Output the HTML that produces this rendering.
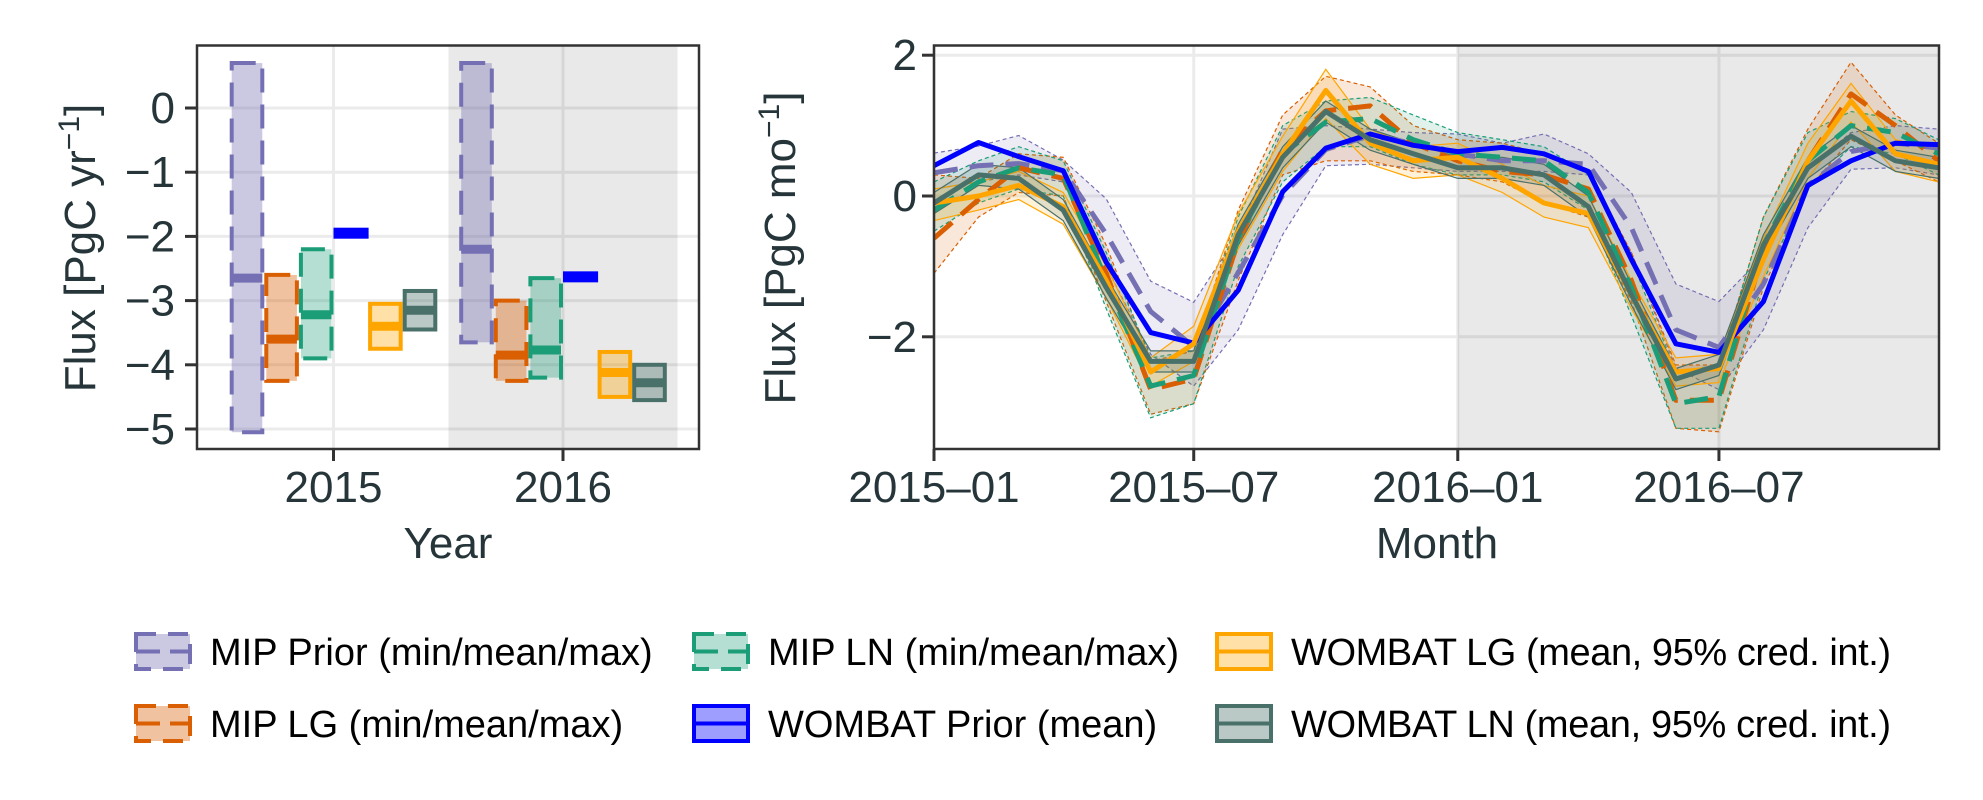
<!DOCTYPE html>
<html><head><meta charset="utf-8"><style>
html,body{margin:0;padding:0;background:#fff;}
svg{display:block;font-family:"Liberation Sans",Arial,sans-serif;}
</style></head><body>
<svg id="chart" width="1983" height="800" viewBox="0 0 1983 800" xmlns="http://www.w3.org/2000/svg">
<defs>
<clipPath id="clipR"><rect x="934" y="45.5" width="1005" height="403.5"/></clipPath>
<clipPath id="clipL"><rect x="197" y="45.5" width="502" height="403.5"/></clipPath>
</defs>
<g id="left"></g>
<g id="right"></g>
<g id="legend"></g>
</svg>
<script>
// ---------- annual data ----------
const years = [2015, 2016];
const yearTickLabels = ["2015", "2016"];
const annualYTicks = [-5, -4, -3, -2, -1, 0];
const priorYrMin = [-5.05, -3.65], priorYrMean = [-2.65, -2.2], priorYrMax = [0.7, 0.7];
const lgYrMin = [-4.25, -4.25], lgYrMean = [-3.6, -3.85], lgYrMax = [-2.6, -3.0];
const lnYrMin = [-3.9, -4.2], lnYrMean = [-3.22, -3.77], lnYrMax = [-2.2, -2.65];
const wPriorYrMean = [-1.95, -2.63];
const wlgYrMin = [-3.75, -4.5], wlgYrMean = [-3.4, -4.12], wlgYrMax = [-3.05, -3.8];
const wlnYrMin = [-3.45, -4.55], wlnYrMean = [-3.15, -4.28], wlnYrMax = [-2.85, -4.0];

// ---------- monthly data (Jan 2015 .. Dec 2016) ----------
const monthDates = [];
for (let i = 0; i < 24; i++) monthDates.push([2015 + Math.floor(i / 12), i % 12]);
const monthTickDates = [[2015,0],[2015,6],[2016,0],[2016,6]];
const monthTickLabels = ["2015\u201301","2015\u201307","2016\u201301","2016\u201307"];
const monthlyYTicks = [-2, 0, 2];
const priorMean = [0.33,0.43,0.46,0.36,-0.54,-1.64,-2.14,-1.09,0.01,0.66,0.86,0.75, 0.6,0.5,0.5,0.45,-0.45,-1.9,-2.15,-1.25,0.15,0.63,0.75,0.68];
const priorMax  = [0.61,0.71,0.86,0.51,-0.04,-1.21,-1.51,-0.54,0.95,1.0,0.95,0.9, 0.88,0.75,0.88,0.6,0.05,-1.25,-1.5,-0.85,0.4,0.9,1.0,0.95];
const priorMin  = [0.1,0.2,0.3,0.2,-1.0,-2.25,-2.7,-1.9,-0.55,0.43,0.45,0.4, 0.35,0.35,0.35,0.3,-0.8,-2.45,-2.75,-1.9,-0.45,0.38,0.4,0.3];
const wPrior    = [0.43,0.76,0.56,0.36,-0.94,-1.94,-2.09,-1.34,0.06,0.68,0.88,0.72, 0.63,0.69,0.6,0.35,-0.9,-2.1,-2.22,-1.5,0.15,0.5,0.75,0.73];
const lgMean = [-0.6,-0.05,0.4,0.25,-1.1,-2.75,-2.6,-0.64,0.66,1.21,1.28,0.75, 0.5,0.35,0.3,0.1,-1.2,-2.9,-2.9,-0.8,0.5,1.45,1.0,0.5];
const lgMax  = [0.3,0.25,0.6,0.55,-0.7,-2.35,-2.2,-0.2,1.15,1.7,1.55,1.0, 0.8,0.75,0.6,0.35,-0.8,-2.4,-2.4,-0.3,0.95,1.9,1.15,0.75];
const lgMin  = [-1.1,-0.3,0.05,0.0,-1.5,-3.1,-2.95,-1.2,0.3,0.5,0.5,0.35, 0.3,0.2,-0.1,-0.3,-1.5,-3.3,-3.35,-1.3,0.1,0.8,0.5,0.2];
const lnMean = [-0.2,0.2,0.4,0.3,-1.2,-2.7,-2.55,-0.6,0.6,1.05,1.1,0.8, 0.6,0.55,0.5,0.05,-1.3,-2.95,-2.85,-0.7,0.5,1.0,0.9,0.6];
const lnMax  = [0.2,0.5,0.7,0.5,-0.8,-2.3,-2.2,-0.3,1.0,1.35,1.4,1.15, 0.9,0.8,0.7,0.3,-0.9,-2.5,-2.4,-0.3,0.9,1.2,1.1,0.8];
const lnMin  = [-0.5,-0.1,0.1,0.0,-1.6,-3.15,-2.95,-1.0,0.2,0.7,0.7,0.45, 0.3,0.3,0.2,-0.2,-1.7,-3.3,-3.3,-1.2,0.1,0.7,0.6,0.3];
const wlgMean = [-0.1,0.0,0.15,-0.15,-1.2,-2.5,-2.1,-0.5,0.6,1.5,0.75,0.5, 0.55,0.25,-0.1,-0.25,-1.4,-2.5,-2.45,-0.9,0.5,1.35,0.6,0.45];
const wlgMax  = [0.1,0.2,0.35,0.05,-1.0,-2.3,-1.85,-0.25,0.85,1.8,0.95,0.7, 0.75,0.45,0.15,0.0,-1.2,-2.3,-2.25,-0.6,0.75,1.6,0.8,0.65];
const wlgMin  = [-0.35,-0.2,-0.05,-0.4,-1.45,-2.7,-2.35,-0.75,0.35,1.1,0.45,0.25, 0.3,0.05,-0.3,-0.45,-1.6,-2.7,-2.65,-1.15,0.25,1.05,0.35,0.2];
const wlnMean = [-0.1,0.3,0.25,-0.2,-1.3,-2.35,-2.35,-0.55,0.55,1.2,0.8,0.6, 0.4,0.4,0.3,-0.15,-1.4,-2.6,-2.4,-0.7,0.4,0.85,0.5,0.4];
const wlnMax  = [0.05,0.45,0.4,-0.05,-1.15,-2.2,-2.2,-0.4,0.7,1.35,0.95,0.75, 0.55,0.55,0.45,0.0,-1.25,-2.45,-2.25,-0.55,0.55,1.0,0.65,0.55];
const wlnMin  = [-0.25,0.15,0.1,-0.35,-1.45,-2.5,-2.5,-0.7,0.4,1.05,0.65,0.45, 0.25,0.25,0.15,-0.3,-1.55,-2.75,-2.55,-0.85,0.25,0.7,0.35,0.25];

const NS = "http://www.w3.org/2000/svg";
const TXT = "#253539";
function mk(parent, tag, attrs) {
  const el = document.createElementNS(NS, tag);
  for (const k in attrs) el.setAttribute(k, attrs[k]);
  parent.appendChild(el);
  return el;
}
const C = {prior:"#7570b3", lg:"#d95f02", ln:"#1b9e77", wp:"#0000ff", wlg:"#ffa500", wln:"#4a706a"};

// ---------- left panel ----------
const L = document.getElementById("left");
const yL = v => 108 - v * 64.2;
const xYear = y => 333.5 + (y - 2015) * 229.5;
const BW = 34.6;
const gL = mk(L, "g", {});


annualYTicks.forEach(t => {
  const l = mk(gL, "line", {x1:197, x2:699, y1:yL(t), y2:yL(t), stroke:"#ebebeb", "stroke-width":3});
  
  
});
years.forEach(y => {
  const l = mk(gL, "line", {x1:xYear(y), x2:xYear(y), y1:45.5, y2:449, stroke:"#ebebeb", "stroke-width":3});
  
  
});
const shL = mk(L, "rect", {x:xYear(2016)-114.5, y:45.5, width:229, height:403.5, fill:"rgba(0,0,0,0.085)"});



const bodyL = mk(L, "g", {"clip-path":"url(#clipL)"});
function annualBox(k, mins, means, maxs, color, dashed, fillOp, name) {
  years.forEach((yr, i) => {
    const x0 = xYear(yr) + (k - 3) * BW;
    const g = mk(bodyL, "g", {});
    
    
    const r = mk(g, "rect", {x:x0+2, y:yL(maxs[i]), width:BW-4, height:yL(mins[i])-yL(maxs[i]),
      fill:color, "fill-opacity":fillOp, stroke:color, "stroke-width":4,
      "stroke-dasharray": dashed ? "24,12" : "none"});
    
    
    const m = mk(g, "line", {x1:x0+2, x2:x0+BW-2, y1:yL(means[i]), y2:yL(means[i]), stroke:color, "stroke-width":9});
    
    
  });
}
annualBox(0, priorYrMin, priorYrMean, priorYrMax, C.prior, true, 0.38, "mip-prior");
annualBox(1, lgYrMin, lgYrMean, lgYrMax, C.lg, true, 0.38, "mip-lg");
annualBox(2, lnYrMin, lnYrMean, lnYrMax, C.ln, true, 0.33, "mip-ln");
years.forEach((yr, i) => {
  const x0 = xYear(yr);
  const r = mk(bodyL, "rect", {x:x0, y:yL(wPriorYrMean[i])-5.5, width:BW+0.5, height:11, fill:C.wp});
  
  
});
annualBox(4, wlgYrMin, wlgYrMean, wlgYrMax, C.wlg, false, 0.35, "wombat-lg");
annualBox(5, wlnYrMin, wlnYrMean, wlnYrMax, C.wln, false, 0.38, "wombat-ln");

const frL = mk(L, "rect", {x:197, y:45.5, width:502, height:403.5, fill:"none", stroke:"#333", "stroke-width":2.5});


annualYTicks.forEach(t => {
  const tk = mk(L, "line", {x1:185, x2:197, y1:yL(t), y2:yL(t), stroke:"#333", "stroke-width":3});
  
  
  const tx = mk(L, "text", {x:175, y:yL(t)+15, "text-anchor":"end", "font-size":44, fill:TXT});
  tx.textContent = t < 0 ? "\u2212" + Math.abs(t) : String(t);
  
  
});
years.forEach((y, i) => {
  const tk = mk(L, "line", {x1:xYear(y), x2:xYear(y), y1:449, y2:461, stroke:"#333", "stroke-width":3});
  
  
  const tx = mk(L, "text", {x:xYear(y), y:502, "text-anchor":"middle", "font-size":44, fill:TXT});
  tx.textContent = yearTickLabels[i];
  
  
});
const xtL = mk(L, "text", {x:448, y:558, "text-anchor":"middle", "font-size":44, fill:TXT});
xtL.textContent = "Year";


const ytL = mk(L, "text", {x:0, y:0, transform:"translate(95,248) rotate(-90)", "text-anchor":"middle", "font-size":44, fill:TXT});
ytL.innerHTML = 'Flux [PgC yr<tspan font-size="30" dy="-16">\u22121</tspan><tspan dy="16">]</tspan>';



// ---------- right panel ----------
const R = document.getElementById("right");
const T0 = Date.UTC(2015, 0, 1);
const xR = d => 934 + (Date.UTC(d[0], d[1], 1) - T0) / 86400000 * 1.435;
const yR = v => 196 - v * 70.4;
const gR = mk(R, "g", {});


monthlyYTicks.forEach(t => {
  const l = mk(gR, "line", {x1:934, x2:1939, y1:yR(t), y2:yR(t), stroke:"#ebebeb", "stroke-width":3});
  
  
});
monthTickDates.forEach(d => {
  const l = mk(gR, "line", {x1:xR(d), x2:xR(d), y1:45.5, y2:449, stroke:"#ebebeb", "stroke-width":3});
  
  
});
const shR = mk(R, "rect", {x:xR([2016,0]), y:45.5, width:1939-xR([2016,0]), height:403.5, fill:"rgba(0,0,0,0.085)"});



const bodyR = mk(R, "g", {"clip-path":"url(#clipR)"});
const pts = arr => arr.map((v, i) => xR(monthDates[i]).toFixed(1) + "," + yR(v).toFixed(1));
function band(mins, maxs, color, op, dashed, name) {
  const d = "M" + pts(maxs).join("L") + "L" + pts(mins).reverse().join("L") + "Z";
  const p = mk(bodyR, "path", {d:d, fill:color, "fill-opacity":op, stroke:"none"});
  
  
  [maxs, mins].forEach(a => {
    const e = mk(bodyR, "polyline", {points:pts(a).join(" "), fill:"none", stroke:color, "stroke-width":1.2, "stroke-dasharray": dashed ? "4,3" : "none"});
    
    
  });
}
function line(vals, color, dashed, name) {
  const p = mk(bodyR, "polyline", {points:pts(vals).join(" "), fill:"none", stroke:color, "stroke-width":5, "stroke-linejoin":"round", "stroke-dasharray": dashed ? "24,12" : "none"});
  
  
}
band(priorMin, priorMax, C.prior, 0.13, true, "mip-prior");
band(lgMin, lgMax, C.lg, 0.15, true, "mip-lg");
band(lnMin, lnMax, C.ln, 0.13, true, "mip-ln");
band(wlgMin, wlgMax, C.wlg, 0.15, false, "wombat-lg");
band(wlnMin, wlnMax, C.wln, 0.15, false, "wombat-ln");
line(priorMean, C.prior, true, "mip-prior");
line(lgMean, C.lg, true, "mip-lg");
line(lnMean, C.ln, true, "mip-ln");
line(wPrior, C.wp, false, "wombat-prior");
line(wlgMean, C.wlg, false, "wombat-lg");
line(wlnMean, C.wln, false, "wombat-ln");

const frR = mk(R, "rect", {x:934, y:45.5, width:1005, height:403.5, fill:"none", stroke:"#333", "stroke-width":2.5});


monthlyYTicks.forEach(t => {
  const tk = mk(R, "line", {x1:922, x2:934, y1:yR(t), y2:yR(t), stroke:"#333", "stroke-width":3});
  
  
  const tx = mk(R, "text", {x:917, y:yR(t)+15, "text-anchor":"end", "font-size":44, fill:TXT});
  tx.textContent = t < 0 ? "\u2212" + Math.abs(t) : String(t);
  
  
});
monthTickDates.forEach((d, i) => {
  const tk = mk(R, "line", {x1:xR(d), x2:xR(d), y1:449, y2:461, stroke:"#333", "stroke-width":3});
  
  
  const tx = mk(R, "text", {x:xR(d), y:502, "text-anchor":"middle", "font-size":44, fill:TXT});
  tx.textContent = monthTickLabels[i];
  
  
});
const xtR = mk(R, "text", {x:1437, y:558, "text-anchor":"middle", "font-size":44, fill:TXT});
xtR.textContent = "Month";


const ytR = mk(R, "text", {x:0, y:0, transform:"translate(795,248) rotate(-90)", "text-anchor":"middle", "font-size":44, fill:TXT});
ytR.innerHTML = 'Flux [PgC mo<tspan font-size="30" dy="-16">\u22121</tspan><tspan dy="16">]</tspan>';



// ---------- legend ----------
const G = document.getElementById("legend");
const legendItems = [
  {x:134, y:632, c:C.prior, dash:true, op:0.38, t:"MIP Prior (min/mean/max)", n:"legend-mip-prior"},
  {x:134, y:704, c:C.lg, dash:true, op:0.38, t:"MIP LG (min/mean/max)", n:"legend-mip-lg"},
  {x:692, y:632, c:C.ln, dash:true, op:0.33, t:"MIP LN (min/mean/max)", n:"legend-mip-ln"},
  {x:692, y:704, c:C.wp, dash:false, op:0.38, t:"WOMBAT Prior (mean)", n:"legend-wombat-prior"},
  {x:1215, y:632, c:C.wlg, dash:false, op:0.35, t:"WOMBAT LG (mean, 95% cred. int.)", n:"legend-wombat-lg"},
  {x:1215, y:704, c:C.wln, dash:false, op:0.38, t:"WOMBAT LN (mean, 95% cred. int.)", n:"legend-wombat-ln"}
];
legendItems.forEach(it => {
  const g = mk(G, "g", {});
  
  
  const r = mk(g, "rect", {x:it.x+2, y:it.y+2, width:54, height:35, fill:it.c, "fill-opacity":it.op, stroke:it.c, "stroke-width":4, "stroke-dasharray": it.dash ? "20,12" : "none"});
  
  
  const m = mk(g, "line", {x1:it.x+2, x2:it.x+56, y1:it.y+19.5, y2:it.y+19.5, stroke:it.c, "stroke-width":4, "stroke-dasharray": it.dash ? "24,10" : "none"});
  
  
  const tx = mk(g, "text", {x:it.x+76, y:it.y+33, "font-size":38, fill:"#000", textLength: it.t.length > 25 ? 600 : null});
  if (it.t.length <= 25) tx.removeAttribute('textLength');
  tx.textContent = it.t;
  
  
});
</script>
</body></html>
